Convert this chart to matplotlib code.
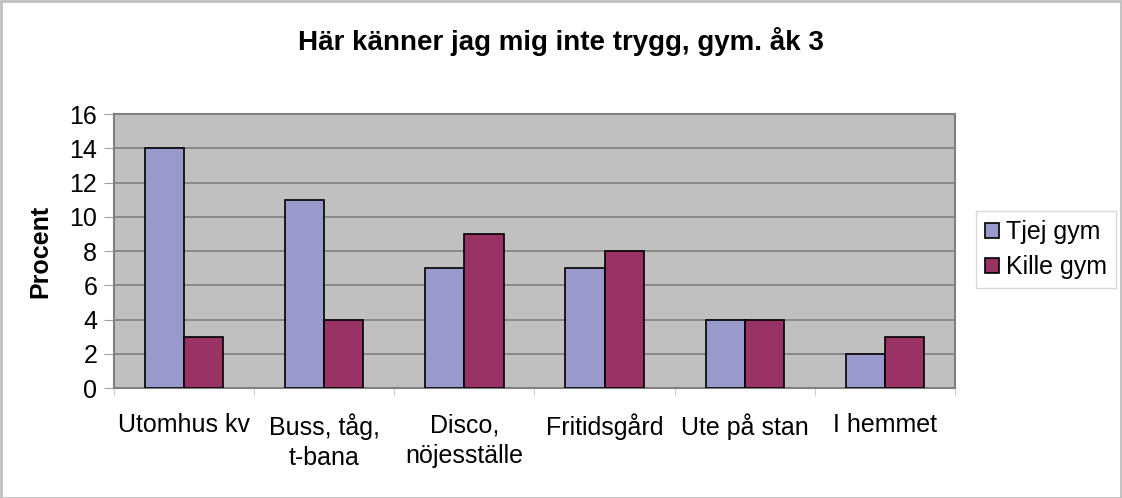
import matplotlib.pyplot as plt
import numpy as np
from matplotlib.patches import Rectangle

plt.rcParams.update({"font.family": ["Liberation Sans", "DejaVu Sans"], "font.size": 18})

categories = ["Utomhus kv", "Buss, tåg,\nt-bana", "Disco,\nnöjesställe",
              "Fritidsgård", "Ute på stan", "I hemmet"]
tjej = [14, 11, 7, 7, 4, 2]
kille = [3, 4, 9, 8, 4, 3]
series = ["Tjej gym", "Kille gym"]
colors = ["#9999CC", "#993366"]

fig = plt.figure(figsize=(11.22, 4.98), dpi=100)
ax = fig.add_axes([114 / 1122, 1 - 388 / 498, 841 / 1122, 274 / 498])
ax.set_facecolor("#C0C0C0")

x = np.arange(len(categories))
w = 0.28
ax.bar(x - w / 2, tjej, w, color=colors[0], edgecolor="black", lw=1.2,
       label=series[0], zorder=3)
ax.bar(x + w / 2, kille, w, color=colors[1], edgecolor="black", lw=1.2,
       label=series[1], zorder=3)

ax.set_xlim(-0.5, len(categories) - 0.5)
ax.set_ylim(0, 16)
ax.set_yticks(range(0, 17, 2))
ax.yaxis.grid(True, color="#808080", lw=1.2, zorder=1)
ax.set_axisbelow(True)
ax.set_xticks(x)
ax.set_xticklabels(categories, linespacing=1.35)
ax.set_xticks(np.arange(-0.5, len(categories), 1), minor=True)
ax.tick_params(axis="x", which="major", length=0, pad=18)
ax.tick_params(axis="x", which="minor", length=6, color="#C8C8C8")
ax.tick_params(axis="y", length=7, color="#A0A0A0", pad=5)
for s in ax.spines.values():
    s.set_color("#808080")
    s.set_linewidth(1.5)

ax.set_ylabel("Procent", fontweight="bold", fontsize=18, labelpad=12)
fig.text(0.5, 1 - 42 / 498, "Här känner jag mig inte trygg, gym. åk 3",
         ha="center", va="center", fontsize=20, fontweight="bold")

leg = ax.legend(loc="center left", bbox_to_anchor=(1.025, 0.505), fancybox=False,
                edgecolor="#D0D0D0", handlelength=0.55, handleheight=0.55,
                handletextpad=0.3, borderpad=0.35, labelspacing=0.45,
                borderaxespad=0, fontsize=18)
leg.get_frame().set_linewidth(1.0)

fig.patches.append(Rectangle((0.001, 0.001), 0.998, 0.997, transform=fig.transFigure,
                             fill=False, edgecolor="#C0C0C0", lw=2))

fig.savefig("out.png", dpi=100)
